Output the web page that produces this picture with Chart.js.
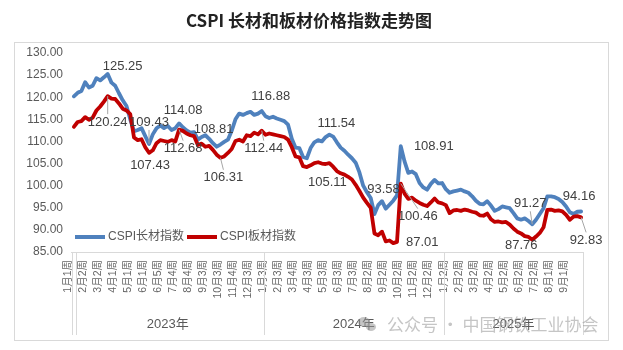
<!DOCTYPE html>
<html>
<head>
<meta charset="utf-8">
<script src="https://cdn.jsdelivr.net/npm/chart.js@4.4.0/dist/chart.umd.min.js"></script>
<style>
  body { margin: 0; background: #fff; }
</style>
</head>
<body>
<canvas id="myChart" width="623" height="350"></canvas>
<script>
// labels on the axis, one every 4 weeks
const tickLabels = [
  '1月1周', '2月2周', '3月2周', '4月1周', '5月1周', '6月1周', '6月5周', '7月4周', '8月4周', '9月3周', '10月3周', '11月4周', '12月3周',
  '1月3周', '2月3周', '3月4周', '4月3周', '5月3周', '6月3周', '7月3周', '8月2周', '9月2周', '10月2周', '11月2周', '12月2周',
  '1月2周', '2月2周', '3月2周', '4月2周', '5月2周', '6月2周', '7月2周', '8月1周', '9月1周'
];
const years = ['2023年', '2024年', '2025年'];
const weeksPerYear = [51, 48, 37];

const longIndex = [
  120.2, 121.0, 121.4, 123.4, 122.2, 122.6, 124.3, 123.8, 124.5, 125.25,
  123.3, 122.6, 120.9, 119.3, 118.0, 115.0, 112.3, 112.6, 113.0, 111.2,
  109.43, 111.6, 113.0, 113.6, 113.0, 113.5, 112.6, 113.0, 114.08, 113.2,
  112.5, 112.0, 112.1, 110.4, 111.0, 111.4, 110.6, 109.6, 108.81, 109.3,
  109.9, 110.4, 112.4, 115.0, 116.3, 116.0, 116.4, 116.7, 116.0, 116.3,
  116.88, 115.7, 115.3, 115.6, 115.2, 114.9, 114.6, 113.8, 110.6, 108.6,
  108.5, 106.5, 106.2, 108.5, 109.8, 110.3, 110.0, 111.0, 111.54, 111.1,
  109.8, 108.6, 107.9, 107.0, 106.2, 105.2, 103.0, 100.0, 98.5, 97.2,
  93.58, 95.6, 96.5, 94.8, 95.7, 96.6, 97.8, 108.91, 105.5, 102.9,
  103.2, 102.6, 100.6, 99.6, 99.1, 100.4, 101.3, 100.5, 100.6, 99.2,
  98.4, 98.7, 98.9, 99.1, 98.7, 98.4, 97.6, 96.6, 95.9, 95.8,
  96.5, 95.5, 94.3, 94.7, 95.3, 95.1, 94.9, 93.8, 92.6, 92.3,
  92.6, 92.0, 91.27, 92.3, 93.6, 94.9, 97.6, 97.6, 97.4, 97.0,
  96.3, 95.3, 94.0, 93.6, 94.1, 94.16
];
const plateIndex = [
  113.3, 114.4, 114.6, 115.5, 114.9, 115.4, 117.0, 117.9, 119.0, 120.24,
  119.7, 119.6, 118.6, 117.4, 117.0, 116.2, 110.9, 110.3, 110.5, 108.7,
  107.43, 108.0, 109.6, 110.3, 110.1, 109.9, 110.3, 110.0, 112.68, 112.4,
  111.8, 111.4, 111.2, 109.2, 109.5, 108.8, 109.0, 108.1, 107.0, 106.31,
  106.6, 107.4, 108.3, 110.1, 110.4, 110.0, 111.4, 111.2, 112.0, 111.6,
  112.44, 111.5, 111.8, 111.6, 111.4, 111.2, 111.0, 110.4, 108.7, 106.6,
  106.4, 104.4, 104.2, 104.6, 105.1, 105.3, 105.0, 104.9, 105.11, 104.3,
  103.3, 102.8, 102.5, 102.0, 101.4, 100.2, 98.8, 97.3, 96.1, 95.0,
  89.2, 88.8, 89.6, 87.4, 87.6, 87.01, 87.3, 100.46, 98.2, 97.0,
  97.3, 96.6, 96.1, 95.7, 95.4, 96.2, 97.1, 96.2, 96.0, 95.6,
  93.8, 94.4, 94.5, 94.3, 94.6, 94.4, 94.1, 93.9, 93.3, 93.2,
  93.7, 92.4, 91.8, 91.9, 91.7, 91.8, 91.2, 90.3, 89.6, 89.2,
  88.6, 88.4, 87.76, 88.5, 89.3, 90.6, 94.5, 94.6, 94.3, 94.4,
  94.2, 93.4, 92.3, 93.0, 93.1, 92.83
];

// which points get a value label (series, week index) + where the label sits
const labelPoints = [
  { s: 0, i: 9, dx: 15, dy: -8 },
  { s: 0, i: 20, dx: 0, dy: -22, leader: true },
  { s: 0, i: 28, dx: 4, dy: -13 },
  { s: 0, i: 38, dx: -3, dy: -17 },
  { s: 0, i: 50, dx: 9, dy: -15 },
  { s: 0, i: 68, dx: 7, dy: -11 },
  { s: 0, i: 80, dx: 9, dy: -25 },
  { s: 0, i: 87, dx: 33, dy: 0 },
  { s: 0, i: 122, dx: -2, dy: -21, leader: true },
  { s: 0, i: 135, dx: -2, dy: -15 },
  { s: 1, i: 9, dx: 0, dy: 26, leader: true },
  { s: 1, i: 20, dx: 1, dy: 13 },
  { s: 1, i: 28, dx: 4, dy: 19, leader: true },
  { s: 1, i: 39, dx: 3, dy: 20, leader: true },
  { s: 1, i: 50, dx: 2, dy: 18, leader: true },
  { s: 1, i: 68, dx: -2, dy: 19 },
  { s: 1, i: 85, dx: 29, dy: -1 },
  { s: 1, i: 87, dx: 17, dy: 33, leader: true },
  { s: 1, i: 122, dx: -11, dy: 6 },
  { s: 1, i: 135, dx: 5, dy: 23, leader: true }
];

const BLUE = '#4f81bd';
const RED = '#c00000';
const GREY = '#595959';
const LINE = '#d9d9d9';

let categories = [];
for (let i = 0; i < longIndex.length; i++) {
  categories.push(i % 4 === 0 ? tickLabels[i / 4] : '');
}

// title, frame, legend, year row, value labels
const decor = {
  id: 'decor',
  afterDraw(chart) {
    const ctx = chart.ctx;
    const area = chart.chartArea;
    ctx.save();

    ctx.strokeStyle = LINE;
    ctx.lineWidth = 1;
    ctx.strokeRect(14.5, 42.5, 594, 298);

    ctx.fillStyle = '#222';
    ctx.font = 'bold 17px "Noto Sans CJK SC"';
    ctx.textAlign = 'center';
    ctx.textBaseline = 'middle';
    ctx.fillText('CSPI 长材和板材价格指数走势图', 309, 21);

    // axis line and the group lines under it
    const bandW = (area.right - area.left) / longIndex.length;
    ctx.beginPath();
    ctx.moveTo(area.left - 1, area.bottom + 0.5);
    ctx.lineTo(area.right, area.bottom + 0.5);
    let bounds = [area.left, area.left + 4];
    let start = 0;
    weeksPerYear.forEach(n => {
      start += n;
      bounds.push(area.left + start * bandW);
    });
    bounds.forEach(x => {
      ctx.moveTo(Math.round(x) + 0.5, area.bottom);
      ctx.lineTo(Math.round(x) + 0.5, 335);
    });
    ctx.stroke();

    ctx.fillStyle = GREY;
    ctx.font = '13px "Liberation Sans", "Noto Sans CJK SC"';
    start = 0;
    years.forEach((y, k) => {
      const mid = area.left + (start + weeksPerYear[k] / 2) * bandW;
      ctx.fillText(y, mid, 324);
      start += weeksPerYear[k];
    });

    // legend inside the plot
    ctx.lineWidth = 4;
    ctx.strokeStyle = BLUE;
    ctx.beginPath(); ctx.moveTo(75, 237); ctx.lineTo(105, 237); ctx.stroke();
    ctx.strokeStyle = RED;
    ctx.beginPath(); ctx.moveTo(187, 237); ctx.lineTo(217, 237); ctx.stroke();
    ctx.textAlign = 'left';
    ctx.font = '12px "Liberation Sans", "Noto Sans CJK SC"';
    ctx.fillText(chart.data.datasets[0].label, 108, 237);
    ctx.fillText(chart.data.datasets[1].label, 220, 237);

    // value labels
    ctx.font = '13px "Liberation Sans"';
    ctx.textAlign = 'center';
    labelPoints.forEach(p => {
      const pt = chart.getDatasetMeta(p.s).data[p.i];
      const v = chart.data.datasets[p.s].data[p.i];
      const lx = pt.x + p.dx;
      const ly = pt.y + p.dy;
      if (p.leader) {
        ctx.strokeStyle = '#a6a6a6';
        ctx.lineWidth = 1;
        ctx.beginPath();
        ctx.moveTo(pt.x, pt.y);
        ctx.lineTo(lx, p.dy > 0 ? ly - 8 : ly + 8);
        ctx.stroke();
      }
      ctx.fillStyle = '#404040';
      ctx.fillText(v.toFixed(2), lx, ly);
    });

    // watermark
    ctx.fillStyle = 'rgba(150,150,150,0.55)';
    ctx.beginPath(); ctx.ellipse(364, 322, 6, 5, 0, 0, Math.PI * 2); ctx.fill();
    ctx.beginPath(); ctx.ellipse(371, 327, 5, 4, 0, 0, Math.PI * 2); ctx.fill();
    ctx.font = '17px "Noto Sans CJK SC"';
    ctx.textAlign = 'left';
    ctx.fillText('公众号 · 中国钢铁工业协会', 387, 325);

    ctx.restore();
  }
};

const ctx = document.getElementById('myChart').getContext('2d');
const myChart = new Chart(ctx, {
  type: 'line',
  data: {
    labels: categories,
    datasets: [{
      label: 'CSPI长材指数',
      data: longIndex,
      borderColor: BLUE,
      borderWidth: 3.8,
      borderJoinStyle: 'round',
      borderCapStyle: 'round',
      pointRadius: 0,
      tension: 0,
      order: 1
    }, {
      label: 'CSPI板材指数',
      data: plateIndex,
      borderColor: RED,
      borderWidth: 3.8,
      borderJoinStyle: 'round',
      borderCapStyle: 'round',
      pointRadius: 0,
      tension: 0,
      order: 0
    }]
  },
  options: {
    responsive: false,
    animation: false,
    devicePixelRatio: 1,
    layout: { padding: { left: 12, right: 40, top: 53, bottom: 14 } },
    plugins: {
      legend: { display: false },
      tooltip: { enabled: false }
    },
    scales: {
      x: {
        offset: true,
        grid: { display: false, drawTicks: false },
        border: { display: false },
        ticks: {
          autoSkip: false,
          minRotation: 90,
          maxRotation: 90,
          labelOffset: -6,
          padding: 8,
          color: '#666',
          font: { size: 10.5, family: '"Liberation Sans", "Noto Sans CJK SC"' }
        },
        afterFit: s => { s.height = 84; }
      },
      y: {
        min: 85,
        max: 130,
        grid: { display: false, drawTicks: false },
        border: { display: false },
        ticks: {
          stepSize: 5,
          padding: 9,
          color: GREY,
          font: { size: 12, family: '"Liberation Sans"' },
          callback: v => v.toFixed(2)
        },
        afterFit: s => { s.width = 60; }
      }
    }
  },
  plugins: [decor]
});
</script>
</body>
</html>
